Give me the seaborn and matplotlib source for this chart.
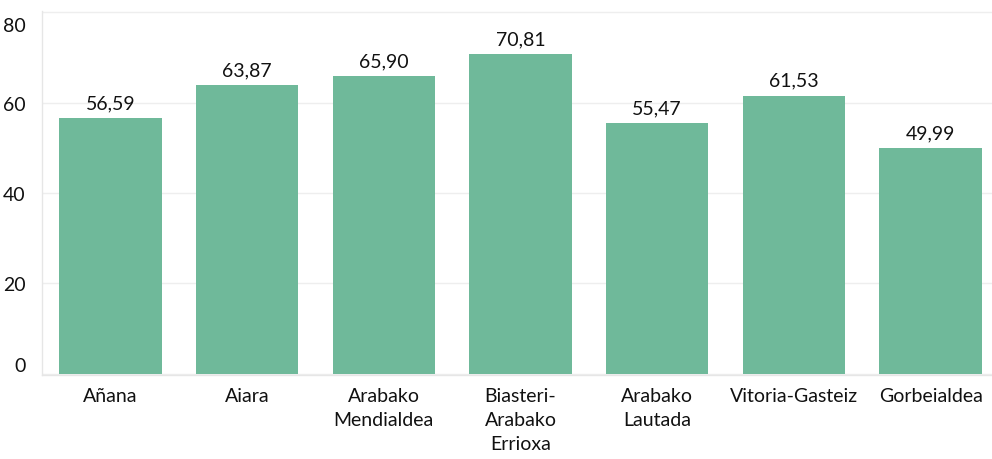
import numpy as np
import pandas as pd
import matplotlib
matplotlib.use('Agg')
import matplotlib.pyplot as plt
import matplotlib.transforms as mtransforms
import seaborn as sns

# datos
comarcas = ['Añana', 'Aiara', 'Arabako\nMendialdea', 'Biasteri-\nArabako\nErrioxa',
            'Arabako\nLautada', 'Vitoria-Gasteiz', 'Gorbeialdea']
valores = [56.59, 63.87, 65.90, 70.81, 55.47, 61.53, 49.99]
y_ticks = [0, 20, 40, 60, 80]

df = pd.DataFrame({'comarca': comarcas, 'valor': valores})

sns.set_theme(style='white')
plt.rcParams['font.family'] = ['Lato', 'DejaVu Sans']

fig = plt.figure(figsize=(9.92, 4.6), dpi=100)
ax = fig.add_axes([42 / 992, 84 / 460, 957 / 992, 364 / 460])

sns.barplot(data=df, x='comarca', y='valor', color='#6fb99a', saturation=1,
            width=0.75, linewidth=0, ax=ax)

# etiquetas de valor con coma decimal
etiquetas = [f'{v:.2f}'.replace('.', ',') for v in valores]
ax.bar_label(ax.containers[0], labels=etiquetas, padding=5, fontsize=14, color='#111111')

ax.set_ylim(-0.3, 80.3)
ax.set_xlim(-0.5, len(comarcas) - 0.5)
ax.set_yticks(y_ticks)
ax.set_yticklabels([str(t) for t in y_ticks])
ax.set_xlabel('')
ax.set_ylabel('')

gris = '#e6e6e6'
ax.yaxis.grid(True, color='#eeeeee', linewidth=1)
ax.set_axisbelow(True)
for lado in ['top', 'right']:
    ax.spines[lado].set_visible(False)
for lado in ['left', 'bottom']:
    ax.spines[lado].set_color(gris)
    ax.spines[lado].set_linewidth(1)

ax.tick_params(axis='x', which='major', length=0, pad=9, labelsize=14, labelcolor='#111111')
ax.set_xticks(np.arange(-0.5, len(comarcas)), minor=True)
ax.tick_params(axis='x', which='minor', length=9, color=gris, width=1)
ax.tick_params(axis='y', length=0, pad=12, labelsize=14, labelcolor='#111111')
for lab in ax.get_xticklabels():
    lab.set_linespacing(1.5)

# el 0 queda encima del eje y el 80 algo por debajo de su línea
ylabs = ax.get_yticklabels()
ylabs[0].set_va('bottom')
ylabs[-1].set_va('top')
desplaza = mtransforms.ScaledTranslation(0, -5 / 100, fig.dpi_scale_trans)
ylabs[-1].set_transform(ylabs[-1].get_transform() + desplaza)

fig.savefig('out.png', dpi=100)
